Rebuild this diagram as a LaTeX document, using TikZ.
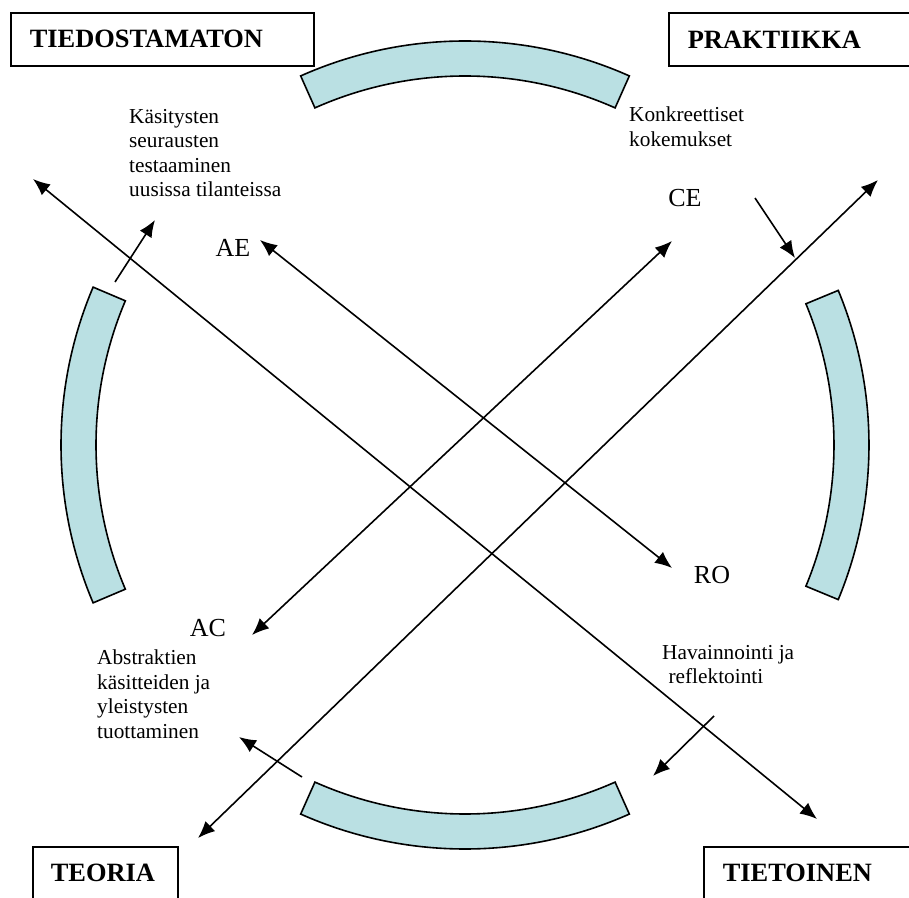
\documentclass[tikz,border=0pt]{standalone}
\usepackage{fontspec}
\setmainfont{Liberation Serif}
\usetikzlibrary{arrows.meta}

\begin{document}
\begin{tikzpicture}[x=1pt,y=1pt,>={Latex[length=17pt,width=14pt]},
  band/.style={draw,line width=1.6pt,fill=bandfill},
  box/.style={draw,line width=1.6pt,font=\bfseries\fontsize{26.4}{30}\selectfont,
    anchor=north west,minimum height=53pt,inner xsep=19pt,align=left},
  lbl/.style={font=\fontsize{26}{30}\selectfont,inner sep=0pt},
  note/.style={font=\fontsize{21.3}{24.5}\selectfont,align=left,anchor=north west,inner sep=0pt},
  arr/.style={line width=1.6pt}]

\definecolor{bandfill}{RGB}{186,224,227}

\clip (0,0) rectangle (909,897);

\coordinate (c) at (465,452);

% the four bands of the ring
\foreach \a/\w in {90/24,270/24,0/22.5,180/23}
  \draw[band] ([shift={(\a-\w:404)}]c) arc[start angle=\a-\w,end angle=\a+\w,radius=404]
    -- ([shift={(\a+\w:369)}]c) arc[start angle=\a+\w,end angle=\a-\w,radius=369] -- cycle;

\node[box,text width=265pt] (tied) at (10,885) {TIEDOSTAMATON};
\node[box,text width=250pt] (prak) at (668,885) {PRAKTIIKKA};
\node[box,inner xsep=18pt,text width=109pt] (teor) at (32,51) {TEORIA};
\node[box,text width=250pt] (tiet) at (703,51) {TIETOINEN};

\node[lbl] (ae) at (233,649) {AE};
\node[lbl] (ce) at (685,699) {CE};
\node[lbl] (ac) at (208,269) {AC};
\node[lbl] (ro) at (712,322) {RO};

\node[note] (kas) at (129,788) {Käsitysten\\seurausten\\testaaminen\\uusissa tilanteissa};
\node[note] (kon) at (629,790) {Konkreettiset\\kokemukset};
\node[note] (abs) at (97,247) {Abstraktien\\käsitteiden ja\\yleistysten\\tuottaminen};
\node[note] (hav) at (662,252) {Havainnointi ja\\\hspace*{.3em}reflektointi};

% arrow ends
\coordinate (tl) at (33,718);   \coordinate (br) at (817,78);
\coordinate (bl) at (198,59);   \coordinate (tr) at (878,717);
\coordinate (aet) at (260,657); \coordinate (rot) at (672,329);
\coordinate (cet) at (672,656); \coordinate (act) at (252,262);

\draw[arr,<->] (tl) -- (br);
\draw[arr,<->] (bl) -- (tr);
\draw[arr,<->] (aet) -- (rot);
\draw[arr,<->] (cet) -- (act);

\coordinate (s1) at (115,615); \coordinate (t1) at (155,677);
\coordinate (s2) at (755,699); \coordinate (t2) at (795,639);
\coordinate (s3) at (714,181); \coordinate (t3) at (653,121);
\coordinate (s4) at (302,120); \coordinate (t4) at (239,160);

\foreach \i in {1,...,4}
  \draw[arr,->] (s\i) -- (t\i);

\end{tikzpicture}
\end{document}
